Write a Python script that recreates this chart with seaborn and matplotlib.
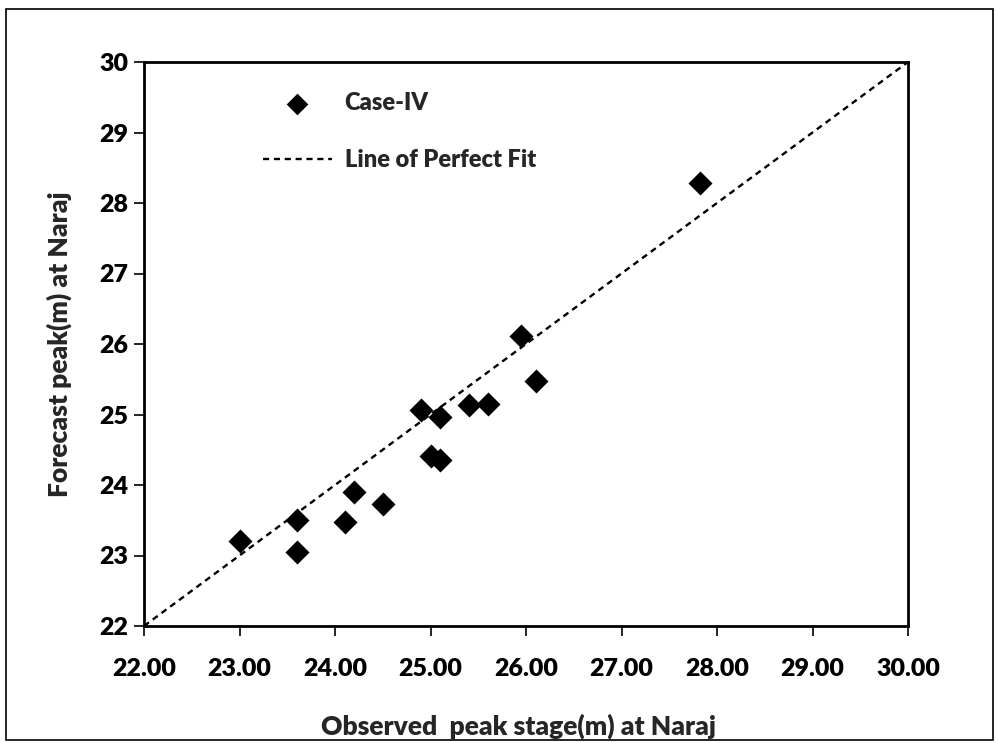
import matplotlib
matplotlib.use("Agg")
import matplotlib.pyplot as plt
import seaborn as sns
import pandas as pd
from matplotlib.patches import Rectangle

# Observed vs forecast peak stage at Naraj (m)
observed = [23.0, 23.6, 23.6, 24.1, 24.2, 24.5, 24.9, 25.1, 25.0, 25.1,
            25.4, 25.6, 26.1, 25.95, 27.82]
forecast = [23.2, 23.5, 23.05, 23.47, 23.9, 23.73, 25.06, 24.97, 24.41, 24.35,
            25.14, 25.15, 25.47, 26.11, 28.29]
fit_x = [22.0, 30.0]
fit_y = [22.0, 30.0]
x_ticks = [22, 23, 24, 25, 26, 27, 28, 29, 30]
y_ticks = [22, 23, 24, 25, 26, 27, 28, 29, 30]

sns.set_style("ticks")
plt.rcParams["font.family"] = ["Lato", "DejaVu Sans"]

W = "heavy"
fig = plt.figure(figsize=(9.98, 7.43), dpi=100)
ax = fig.add_axes([144 / 998, 1 - 626 / 743, 764 / 998, 564 / 743])

pts = pd.DataFrame({"obs": observed, "fc": forecast})
fit = pd.DataFrame({"x": fit_x, "y": fit_y})

sns.lineplot(data=fit, x="x", y="y", ax=ax, color="black", lw=1.7,
             linestyle=(0, (2.6, 2.0)), label="Line of Perfect Fit")
sns.scatterplot(data=pts, x="obs", y="fc", ax=ax, marker="D", s=150,
                color="black", edgecolor="black", linewidth=0, label="Case-IV")

ax.set_xlim(22, 30)
ax.set_ylim(22, 30)
ax.set_xticks(x_ticks)
ax.set_xticklabels([f"{v:.2f}" for v in x_ticks])
ax.set_yticks(y_ticks)
ax.set_yticklabels([str(v) for v in y_ticks])
ax.tick_params(axis="both", direction="out", length=7, width=1.2,
               colors="black", labelsize=18, pad=6)
ax.tick_params(axis="x", pad=16)
ax.tick_params(axis="y", pad=4)
for lab in ax.get_xticklabels() + ax.get_yticklabels():
    lab.set_fontweight(W)
for sp in ax.spines.values():
    sp.set_visible(True)
    sp.set_color("black")
    sp.set_linewidth(2.0)

ax.set_xlabel("Observed  peak stage(m) at Naraj", fontsize=19,
              fontweight=W, labelpad=21)
ax.set_ylabel("Forecast peak(m) at Naraj", fontsize=19,
              fontweight=W, labelpad=20)
ax.xaxis.set_label_coords(0.49, -0.155)

handles, labels = ax.get_legend_handles_labels()
order = [labels.index("Case-IV"), labels.index("Line of Perfect Fit")]
ax.legend([handles[i] for i in order], [labels[i] for i in order],
          loc="upper left", bbox_to_anchor=(0.128, 0.985), frameon=False,
          handlelength=2.9, handletextpad=0.55,
          labelspacing=1.5, markerscale=0.9,
          prop={"weight": W, "size": 17})

# outer frame around the whole figure
fig.patches.append(Rectangle((6 / 998, 3 / 743), 987 / 998, 731 / 743,
                             transform=fig.transFigure, fill=False,
                             edgecolor="black", lw=1.2))

fig.savefig("out.png", dpi=100)
